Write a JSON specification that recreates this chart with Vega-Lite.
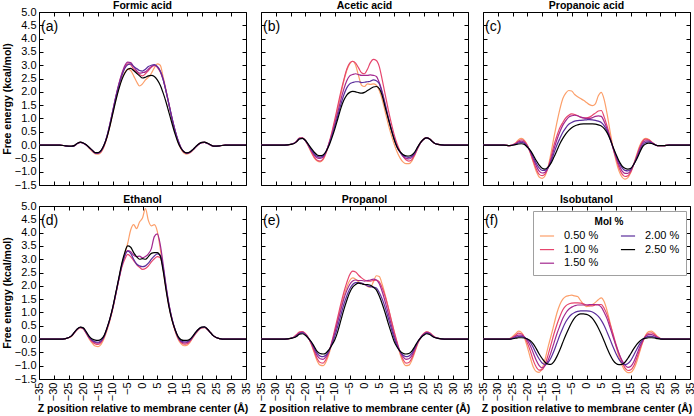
{
  "$schema": "https://vega.github.io/schema/vega-lite/v6.json",
  "background": "white",
  "autosize": {"type": "pad"},
  "padding": {"left": 2, "top": 0, "right": 2, "bottom": 3},
  "datasets": {
    "fe": [
      {"p":"a","x":-35,"A":0,"B":0,"C":0,"D":0,"E":0},
      {"p":"a","x":-31,"A":0,"B":0,"C":0,"D":0,"E":0},
      {"p":"a","x":-28,"A":0,"B":0,"C":0,"D":0,"E":0},
      {"p":"a","x":-26,"A":-0.03,"B":-0.03,"C":-0.03,"D":-0.03,"E":-0.03},
      {"p":"a","x":-24,"A":-0.05,"B":-0.05,"C":-0.05,"D":-0.05,"E":-0.04},
      {"p":"a","x":-23,"A":-0.02,"B":-0.02,"C":-0.02,"D":-0.02,"E":-0.01},
      {"p":"a","x":-22,"A":0.06,"B":0.06,"C":0.06,"D":0.06,"E":0.07},
      {"p":"a","x":-21,"A":0.1,"B":0.1,"C":0.1,"D":0.1,"E":0.11},
      {"p":"a","x":-20,"A":0.07,"B":0.07,"C":0.07,"D":0.07,"E":0.08},
      {"p":"a","x":-19,"A":0,"B":0,"C":0,"D":0,"E":0.01},
      {"p":"a","x":-18,"A":-0.12,"B":-0.1,"C":-0.1,"D":-0.1,"E":-0.09},
      {"p":"a","x":-17,"A":-0.24,"B":-0.21,"C":-0.2,"D":-0.2,"E":-0.19},
      {"p":"a","x":-16,"A":-0.33,"B":-0.3,"C":-0.29,"D":-0.29,"E":-0.28},
      {"p":"a","x":-15,"A":-0.34,"B":-0.31,"C":-0.3,"D":-0.3,"E":-0.28},
      {"p":"a","x":-14,"A":-0.27,"B":-0.24,"C":-0.22,"D":-0.22,"E":-0.2},
      {"p":"a","x":-13,"A":-0.06,"B":-0.03,"C":-0.01,"D":0,"E":0},
      {"p":"a","x":-12,"A":0.28,"B":0.32,"C":0.34,"D":0.34,"E":0.3},
      {"p":"a","x":-11,"A":0.72,"B":0.78,"C":0.8,"D":0.8,"E":0.72},
      {"p":"a","x":-10,"A":1.22,"B":1.3,"C":1.32,"D":1.3,"E":1.2},
      {"p":"a","x":-9,"A":1.72,"B":1.82,"C":1.84,"D":1.8,"E":1.68},
      {"p":"a","x":-8,"A":2.15,"B":2.28,"C":2.3,"D":2.24,"E":2.1},
      {"p":"a","x":-7,"A":2.5,"B":2.65,"C":2.68,"D":2.6,"E":2.45},
      {"p":"a","x":-6,"A":2.72,"B":2.92,"C":2.98,"D":2.88,"E":2.7},
      {"p":"a","x":-5,"A":2.85,"B":3.05,"C":3.12,"D":3.02,"E":2.85},
      {"p":"a","x":-4,"A":2.8,"B":3.02,"C":3.1,"D":3.05,"E":2.88},
      {"p":"a","x":-3,"A":2.6,"B":2.85,"C":2.95,"D":2.95,"E":2.8},
      {"p":"a","x":-2,"A":2.38,"B":2.75,"C":2.8,"D":2.88,"E":2.7},
      {"p":"a","x":-1,"A":2.22,"B":2.65,"C":2.7,"D":2.8,"E":2.6},
      {"p":"a","x":0,"A":2.3,"B":2.6,"C":2.72,"D":2.78,"E":2.52},
      {"p":"a","x":1,"A":2.45,"B":2.68,"C":2.75,"D":2.85,"E":2.55},
      {"p":"a","x":2,"A":2.55,"B":2.8,"C":2.85,"D":2.95,"E":2.6},
      {"p":"a","x":3,"A":2.7,"B":2.92,"C":2.95,"D":3.0,"E":2.62},
      {"p":"a","x":4,"A":2.9,"B":2.98,"C":3.0,"D":3.02,"E":2.58},
      {"p":"a","x":5,"A":3.05,"B":2.92,"C":2.95,"D":2.95,"E":2.45},
      {"p":"a","x":6,"A":3.0,"B":2.75,"C":2.78,"D":2.78,"E":2.25},
      {"p":"a","x":7,"A":2.55,"B":2.45,"C":2.48,"D":2.45,"E":1.95},
      {"p":"a","x":8,"A":2.05,"B":2.0,"C":2.02,"D":2.0,"E":1.6},
      {"p":"a","x":9,"A":1.5,"B":1.5,"C":1.5,"D":1.5,"E":1.2},
      {"p":"a","x":10,"A":0.95,"B":1.0,"C":1.0,"D":1.0,"E":0.8},
      {"p":"a","x":11,"A":0.5,"B":0.55,"C":0.55,"D":0.55,"E":0.42},
      {"p":"a","x":12,"A":0.12,"B":0.18,"C":0.18,"D":0.18,"E":0.1},
      {"p":"a","x":13,"A":-0.15,"B":-0.1,"C":-0.1,"D":-0.1,"E":-0.12},
      {"p":"a","x":14,"A":-0.3,"B":-0.26,"C":-0.25,"D":-0.25,"E":-0.25},
      {"p":"a","x":15,"A":-0.34,"B":-0.31,"C":-0.3,"D":-0.3,"E":-0.29},
      {"p":"a","x":16,"A":-0.3,"B":-0.28,"C":-0.27,"D":-0.27,"E":-0.26},
      {"p":"a","x":17,"A":-0.2,"B":-0.18,"C":-0.18,"D":-0.18,"E":-0.17},
      {"p":"a","x":18,"A":-0.08,"B":-0.07,"C":-0.07,"D":-0.07,"E":-0.06},
      {"p":"a","x":19,"A":0.03,"B":0.03,"C":0.03,"D":0.03,"E":0.04},
      {"p":"a","x":20,"A":0.09,"B":0.09,"C":0.09,"D":0.09,"E":0.1},
      {"p":"a","x":21,"A":0.1,"B":0.1,"C":0.1,"D":0.1,"E":0.11},
      {"p":"a","x":22,"A":0.06,"B":0.06,"C":0.06,"D":0.06,"E":0.07},
      {"p":"a","x":23,"A":0,"B":0,"C":0,"D":0,"E":0.01},
      {"p":"a","x":24,"A":-0.04,"B":-0.04,"C":-0.04,"D":-0.04,"E":-0.04},
      {"p":"a","x":26,"A":-0.03,"B":-0.03,"C":-0.03,"D":-0.03,"E":-0.03},
      {"p":"a","x":28,"A":0,"B":0,"C":0,"D":0,"E":0},
      {"p":"a","x":31,"A":0,"B":0,"C":0,"D":0,"E":0},
      {"p":"a","x":35,"A":0,"B":0,"C":0,"D":0,"E":0},

      {"p":"b","x":-35,"A":0,"B":0,"C":0,"D":0,"E":0},
      {"p":"b","x":-31,"A":0,"B":0,"C":0,"D":0,"E":0},
      {"p":"b","x":-28,"A":0,"B":0,"C":0,"D":0,"E":0},
      {"p":"b","x":-26,"A":0.01,"B":0.01,"C":0.01,"D":0.01,"E":0.01},
      {"p":"b","x":-24,"A":0.06,"B":0.06,"C":0.06,"D":0.06,"E":0.05},
      {"p":"b","x":-23,"A":0.14,"B":0.14,"C":0.13,"D":0.13,"E":0.12},
      {"p":"b","x":-22,"A":0.26,"B":0.26,"C":0.25,"D":0.24,"E":0.23},
      {"p":"b","x":-21,"A":0.27,"B":0.27,"C":0.26,"D":0.25,"E":0.25},
      {"p":"b","x":-20,"A":0.16,"B":0.17,"C":0.17,"D":0.17,"E":0.18},
      {"p":"b","x":-19,"A":-0.04,"B":-0.02,"C":0,"D":0.01,"E":0.03},
      {"p":"b","x":-18,"A":-0.28,"B":-0.25,"C":-0.2,"D":-0.17,"E":-0.12},
      {"p":"b","x":-17,"A":-0.48,"B":-0.45,"C":-0.38,"D":-0.33,"E":-0.27},
      {"p":"b","x":-16,"A":-0.6,"B":-0.57,"C":-0.48,"D":-0.43,"E":-0.37},
      {"p":"b","x":-15,"A":-0.63,"B":-0.6,"C":-0.5,"D":-0.45,"E":-0.4},
      {"p":"b","x":-14,"A":-0.55,"B":-0.52,"C":-0.45,"D":-0.41,"E":-0.37},
      {"p":"b","x":-13,"A":-0.3,"B":-0.28,"C":-0.25,"D":-0.24,"E":-0.24},
      {"p":"b","x":-12,"A":0.05,"B":0.08,"C":0.05,"D":0.02,"E":-0.02},
      {"p":"b","x":-11,"A":0.45,"B":0.5,"C":0.4,"D":0.35,"E":0.28},
      {"p":"b","x":-10,"A":0.9,"B":0.98,"C":0.8,"D":0.72,"E":0.62},
      {"p":"b","x":-9,"A":1.4,"B":1.5,"C":1.25,"D":1.12,"E":1.0},
      {"p":"b","x":-8,"A":1.9,"B":2.0,"C":1.7,"D":1.52,"E":1.38},
      {"p":"b","x":-7,"A":2.4,"B":2.45,"C":2.1,"D":1.88,"E":1.68},
      {"p":"b","x":-6,"A":2.8,"B":2.85,"C":2.42,"D":2.15,"E":1.88},
      {"p":"b","x":-5,"A":3.05,"B":3.08,"C":2.6,"D":2.3,"E":1.98},
      {"p":"b","x":-4,"A":3.15,"B":3.15,"C":2.65,"D":2.35,"E":2.02},
      {"p":"b","x":-3,"A":3.0,"B":3.08,"C":2.68,"D":2.38,"E":2.0},
      {"p":"b","x":-2,"A":2.6,"B":2.9,"C":2.65,"D":2.38,"E":1.97},
      {"p":"b","x":-1,"A":2.25,"B":2.72,"C":2.62,"D":2.35,"E":1.95},
      {"p":"b","x":0,"A":2.2,"B":2.68,"C":2.62,"D":2.36,"E":1.98},
      {"p":"b","x":1,"A":2.3,"B":2.85,"C":2.62,"D":2.38,"E":2.05},
      {"p":"b","x":2,"A":2.28,"B":3.1,"C":2.64,"D":2.4,"E":2.12},
      {"p":"b","x":3,"A":2.3,"B":3.22,"C":2.62,"D":2.45,"E":2.18},
      {"p":"b","x":4,"A":2.25,"B":3.18,"C":2.58,"D":2.42,"E":2.2},
      {"p":"b","x":5,"A":2.05,"B":2.95,"C":2.35,"D":2.3,"E":2.12},
      {"p":"b","x":6,"A":1.7,"B":2.45,"C":2.0,"D":1.95,"E":1.85},
      {"p":"b","x":7,"A":1.25,"B":1.9,"C":1.55,"D":1.5,"E":1.42},
      {"p":"b","x":8,"A":0.8,"B":1.35,"C":1.05,"D":1.05,"E":1.0},
      {"p":"b","x":9,"A":0.4,"B":0.85,"C":0.62,"D":0.62,"E":0.6},
      {"p":"b","x":10,"A":0.05,"B":0.4,"C":0.25,"D":0.25,"E":0.22},
      {"p":"b","x":11,"A":-0.25,"B":0.05,"C":-0.05,"D":-0.07,"E":-0.07},
      {"p":"b","x":12,"A":-0.48,"B":-0.22,"C":-0.27,"D":-0.26,"E":-0.25},
      {"p":"b","x":13,"A":-0.63,"B":-0.42,"C":-0.42,"D":-0.38,"E":-0.35},
      {"p":"b","x":14,"A":-0.7,"B":-0.55,"C":-0.5,"D":-0.44,"E":-0.4},
      {"p":"b","x":15,"A":-0.7,"B":-0.6,"C":-0.52,"D":-0.46,"E":-0.41},
      {"p":"b","x":16,"A":-0.6,"B":-0.55,"C":-0.47,"D":-0.42,"E":-0.37},
      {"p":"b","x":17,"A":-0.38,"B":-0.36,"C":-0.32,"D":-0.29,"E":-0.26},
      {"p":"b","x":18,"A":-0.12,"B":-0.12,"C":-0.1,"D":-0.09,"E":-0.07},
      {"p":"b","x":19,"A":0.1,"B":0.09,"C":0.09,"D":0.1,"E":0.1},
      {"p":"b","x":20,"A":0.23,"B":0.22,"C":0.22,"D":0.22,"E":0.22},
      {"p":"b","x":21,"A":0.28,"B":0.27,"C":0.27,"D":0.27,"E":0.27},
      {"p":"b","x":22,"A":0.24,"B":0.23,"C":0.23,"D":0.23,"E":0.23},
      {"p":"b","x":23,"A":0.13,"B":0.13,"C":0.13,"D":0.13,"E":0.13},
      {"p":"b","x":24,"A":0.05,"B":0.05,"C":0.05,"D":0.05,"E":0.05},
      {"p":"b","x":26,"A":0.01,"B":0.01,"C":0.01,"D":0.01,"E":0.01},
      {"p":"b","x":28,"A":0,"B":0,"C":0,"D":0,"E":0},
      {"p":"b","x":31,"A":0,"B":0,"C":0,"D":0,"E":0},
      {"p":"b","x":35,"A":0,"B":0,"C":0,"D":0,"E":0},

      {"p":"c","x":-35,"A":0,"B":0,"C":0,"D":0,"E":0},
      {"p":"c","x":-31,"A":0,"B":0,"C":0,"D":0,"E":0},
      {"p":"c","x":-28,"A":0,"B":0,"C":0,"D":0,"E":0},
      {"p":"c","x":-26,"A":-0.02,"B":-0.02,"C":-0.02,"D":-0.02,"E":-0.02},
      {"p":"c","x":-24,"A":0.08,"B":0.06,"C":0.05,"D":0.03,"E":0.02},
      {"p":"c","x":-23,"A":0.2,"B":0.15,"C":0.12,"D":0.08,"E":0.04},
      {"p":"c","x":-22,"A":0.25,"B":0.2,"C":0.15,"D":0.1,"E":0.05},
      {"p":"c","x":-21,"A":0.18,"B":0.15,"C":0.1,"D":0.06,"E":0.02},
      {"p":"c","x":-20,"A":0,"B":-0.02,"C":-0.04,"D":-0.06,"E":-0.08},
      {"p":"c","x":-19,"A":-0.3,"B":-0.28,"C":-0.25,"D":-0.22,"E":-0.2},
      {"p":"c","x":-18,"A":-0.65,"B":-0.6,"C":-0.52,"D":-0.45,"E":-0.38},
      {"p":"c","x":-17,"A":-0.98,"B":-0.9,"C":-0.78,"D":-0.68,"E":-0.58},
      {"p":"c","x":-16,"A":-1.2,"B":-1.1,"C":-0.98,"D":-0.86,"E":-0.75},
      {"p":"c","x":-15,"A":-1.25,"B":-1.15,"C":-1.05,"D":-0.95,"E":-0.87},
      {"p":"c","x":-14,"A":-1.15,"B":-1.08,"C":-1.02,"D":-0.95,"E":-0.9},
      {"p":"c","x":-13,"A":-0.82,"B":-0.85,"C":-0.85,"D":-0.85,"E":-0.83},
      {"p":"c","x":-12,"A":-0.3,"B":-0.45,"C":-0.55,"D":-0.62,"E":-0.68},
      {"p":"c","x":-11,"A":0.3,"B":0,"C":-0.15,"D":-0.3,"E":-0.45},
      {"p":"c","x":-10,"A":0.85,"B":0.35,"C":0.2,"D":0,"E":-0.2},
      {"p":"c","x":-9,"A":1.35,"B":0.65,"C":0.5,"D":0.25,"E":0.05},
      {"p":"c","x":-8,"A":1.75,"B":0.85,"C":0.75,"D":0.48,"E":0.25},
      {"p":"c","x":-7,"A":1.95,"B":1.02,"C":0.92,"D":0.65,"E":0.42},
      {"p":"c","x":-6,"A":2.05,"B":1.12,"C":1.05,"D":0.78,"E":0.55},
      {"p":"c","x":-5,"A":2.03,"B":1.17,"C":1.1,"D":0.85,"E":0.65},
      {"p":"c","x":-4,"A":1.9,"B":1.15,"C":1.12,"D":0.9,"E":0.72},
      {"p":"c","x":-3,"A":1.82,"B":1.1,"C":1.1,"D":0.92,"E":0.76},
      {"p":"c","x":-2,"A":1.75,"B":1.05,"C":1.05,"D":0.93,"E":0.79},
      {"p":"c","x":-1,"A":1.68,"B":1.02,"C":1.02,"D":0.94,"E":0.8},
      {"p":"c","x":0,"A":1.6,"B":1.02,"C":1.0,"D":0.95,"E":0.8},
      {"p":"c","x":1,"A":1.52,"B":1.05,"C":1.0,"D":0.96,"E":0.8},
      {"p":"c","x":2,"A":1.48,"B":1.12,"C":1.03,"D":0.95,"E":0.8},
      {"p":"c","x":3,"A":1.55,"B":1.2,"C":1.08,"D":0.93,"E":0.79},
      {"p":"c","x":4,"A":1.85,"B":1.28,"C":1.1,"D":0.9,"E":0.76},
      {"p":"c","x":5,"A":1.98,"B":1.3,"C":1.08,"D":0.85,"E":0.72},
      {"p":"c","x":6,"A":1.7,"B":1.05,"C":0.88,"D":0.72,"E":0.62},
      {"p":"c","x":7,"A":1.15,"B":0.7,"C":0.6,"D":0.52,"E":0.46},
      {"p":"c","x":8,"A":0.5,"B":0.3,"C":0.25,"D":0.22,"E":0.22},
      {"p":"c","x":9,"A":-0.1,"B":-0.12,"C":-0.12,"D":-0.1,"E":-0.08},
      {"p":"c","x":10,"A":-0.6,"B":-0.5,"C":-0.45,"D":-0.4,"E":-0.35},
      {"p":"c","x":11,"A":-0.98,"B":-0.85,"C":-0.75,"D":-0.65,"E":-0.6},
      {"p":"c","x":12,"A":-1.2,"B":-1.08,"C":-0.97,"D":-0.85,"E":-0.78},
      {"p":"c","x":13,"A":-1.28,"B":-1.18,"C":-1.06,"D":-0.95,"E":-0.87},
      {"p":"c","x":14,"A":-1.22,"B":-1.15,"C":-1.06,"D":-0.97,"E":-0.9},
      {"p":"c","x":15,"A":-1.02,"B":-1.0,"C":-0.95,"D":-0.9,"E":-0.87},
      {"p":"c","x":16,"A":-0.7,"B":-0.72,"C":-0.72,"D":-0.72,"E":-0.72},
      {"p":"c","x":17,"A":-0.35,"B":-0.4,"C":-0.45,"D":-0.48,"E":-0.52},
      {"p":"c","x":18,"A":-0.02,"B":-0.08,"C":-0.15,"D":-0.22,"E":-0.28},
      {"p":"c","x":19,"A":0.18,"B":0.14,"C":0.08,"D":0,"E":-0.06},
      {"p":"c","x":20,"A":0.25,"B":0.22,"C":0.16,"D":0.1,"E":0.04},
      {"p":"c","x":21,"A":0.22,"B":0.2,"C":0.16,"D":0.12,"E":0.07},
      {"p":"c","x":22,"A":0.12,"B":0.12,"C":0.1,"D":0.08,"E":0.06},
      {"p":"c","x":23,"A":0.03,"B":0.03,"C":0.03,"D":0.02,"E":0.02},
      {"p":"c","x":24,"A":-0.02,"B":-0.02,"C":-0.02,"D":-0.02,"E":-0.02},
      {"p":"c","x":26,"A":-0.02,"B":-0.02,"C":-0.02,"D":-0.02,"E":-0.02},
      {"p":"c","x":28,"A":0,"B":0,"C":0,"D":0,"E":0},
      {"p":"c","x":31,"A":0,"B":0,"C":0,"D":0,"E":0},
      {"p":"c","x":35,"A":0,"B":0,"C":0,"D":0,"E":0},

      {"p":"d","x":-35,"A":0,"B":0,"C":0,"D":0,"E":0},
      {"p":"d","x":-31,"A":0,"B":0,"C":0,"D":0,"E":0},
      {"p":"d","x":-28,"A":0,"B":0,"C":0,"D":0,"E":0},
      {"p":"d","x":-26,"A":0.02,"B":0.02,"C":0.02,"D":0.02,"E":0.02},
      {"p":"d","x":-24,"A":0.1,"B":0.11,"C":0.12,"D":0.12,"E":0.12},
      {"p":"d","x":-23,"A":0.23,"B":0.24,"C":0.25,"D":0.25,"E":0.26},
      {"p":"d","x":-22,"A":0.36,"B":0.37,"C":0.38,"D":0.38,"E":0.39},
      {"p":"d","x":-21,"A":0.42,"B":0.43,"C":0.44,"D":0.44,"E":0.45},
      {"p":"d","x":-20,"A":0.38,"B":0.39,"C":0.4,"D":0.41,"E":0.42},
      {"p":"d","x":-19,"A":0.2,"B":0.22,"C":0.23,"D":0.24,"E":0.27},
      {"p":"d","x":-18,"A":0,"B":0.03,"C":0.05,"D":0.06,"E":0.1},
      {"p":"d","x":-17,"A":-0.15,"B":-0.1,"C":-0.06,"D":-0.04,"E":0},
      {"p":"d","x":-16,"A":-0.26,"B":-0.18,"C":-0.13,"D":-0.1,"E":-0.04},
      {"p":"d","x":-15,"A":-0.28,"B":-0.2,"C":-0.15,"D":-0.12,"E":-0.05},
      {"p":"d","x":-14,"A":-0.2,"B":-0.12,"C":-0.09,"D":-0.06,"E":-0.01},
      {"p":"d","x":-13,"A":0.02,"B":0.08,"C":0.1,"D":0.1,"E":0.13},
      {"p":"d","x":-12,"A":0.33,"B":0.38,"C":0.4,"D":0.4,"E":0.42},
      {"p":"d","x":-11,"A":0.7,"B":0.74,"C":0.76,"D":0.76,"E":0.78},
      {"p":"d","x":-10,"A":1.15,"B":1.18,"C":1.2,"D":1.2,"E":1.22},
      {"p":"d","x":-9,"A":1.7,"B":1.7,"C":1.72,"D":1.72,"E":1.76},
      {"p":"d","x":-8,"A":2.25,"B":2.22,"C":2.26,"D":2.26,"E":2.3},
      {"p":"d","x":-7,"A":2.75,"B":2.7,"C":2.78,"D":2.76,"E":2.84},
      {"p":"d","x":-6,"A":3.2,"B":3.0,"C":3.15,"D":3.12,"E":3.25},
      {"p":"d","x":-5,"A":3.6,"B":3.18,"C":3.32,"D":3.3,"E":3.5},
      {"p":"d","x":-4,"A":4.1,"B":3.1,"C":3.28,"D":3.22,"E":3.45},
      {"p":"d","x":-3,"A":4.3,"B":2.95,"C":3.15,"D":3.0,"E":3.25},
      {"p":"d","x":-2,"A":4.15,"B":2.8,"C":3.1,"D":2.82,"E":3.1},
      {"p":"d","x":-1,"A":4.4,"B":2.7,"C":3.12,"D":2.75,"E":3.0},
      {"p":"d","x":0,"A":4.55,"B":2.62,"C":3.05,"D":2.72,"E":3.02},
      {"p":"d","x":1,"A":4.9,"B":2.65,"C":3.1,"D":2.75,"E":3.0},
      {"p":"d","x":2,"A":4.45,"B":2.75,"C":3.2,"D":2.85,"E":3.1},
      {"p":"d","x":3,"A":4.25,"B":2.9,"C":3.4,"D":3.0,"E":3.22},
      {"p":"d","x":4,"A":4.3,"B":3.02,"C":3.85,"D":3.12,"E":3.25},
      {"p":"d","x":5,"A":4.05,"B":3.1,"C":3.95,"D":3.2,"E":3.25},
      {"p":"d","x":6,"A":3.4,"B":3.05,"C":3.55,"D":3.15,"E":3.12},
      {"p":"d","x":7,"A":2.6,"B":2.65,"C":2.8,"D":2.68,"E":2.55},
      {"p":"d","x":8,"A":1.85,"B":1.9,"C":1.98,"D":1.92,"E":1.82},
      {"p":"d","x":9,"A":1.2,"B":1.25,"C":1.28,"D":1.26,"E":1.18},
      {"p":"d","x":10,"A":0.7,"B":0.74,"C":0.75,"D":0.75,"E":0.7},
      {"p":"d","x":11,"A":0.3,"B":0.34,"C":0.36,"D":0.36,"E":0.36},
      {"p":"d","x":12,"A":0,"B":0.05,"C":0.07,"D":0.08,"E":0.1},
      {"p":"d","x":13,"A":-0.17,"B":-0.12,"C":-0.09,"D":-0.06,"E":-0.02},
      {"p":"d","x":14,"A":-0.25,"B":-0.19,"C":-0.14,"D":-0.1,"E":-0.05},
      {"p":"d","x":15,"A":-0.24,"B":-0.18,"C":-0.13,"D":-0.1,"E":-0.05},
      {"p":"d","x":16,"A":-0.13,"B":-0.09,"C":-0.06,"D":-0.04,"E":-0.01},
      {"p":"d","x":17,"A":0.04,"B":0.06,"C":0.08,"D":0.09,"E":0.11},
      {"p":"d","x":18,"A":0.2,"B":0.22,"C":0.23,"D":0.24,"E":0.26},
      {"p":"d","x":19,"A":0.34,"B":0.35,"C":0.36,"D":0.37,"E":0.38},
      {"p":"d","x":20,"A":0.42,"B":0.43,"C":0.43,"D":0.44,"E":0.45},
      {"p":"d","x":21,"A":0.43,"B":0.44,"C":0.44,"D":0.45,"E":0.46},
      {"p":"d","x":22,"A":0.36,"B":0.36,"C":0.36,"D":0.37,"E":0.37},
      {"p":"d","x":23,"A":0.24,"B":0.24,"C":0.24,"D":0.24,"E":0.24},
      {"p":"d","x":24,"A":0.12,"B":0.12,"C":0.12,"D":0.12,"E":0.12},
      {"p":"d","x":26,"A":0.02,"B":0.02,"C":0.02,"D":0.02,"E":0.02},
      {"p":"d","x":28,"A":0,"B":0,"C":0,"D":0,"E":0},
      {"p":"d","x":31,"A":0,"B":0,"C":0,"D":0,"E":0},
      {"p":"d","x":35,"A":0,"B":0,"C":0,"D":0,"E":0},

      {"p":"e","x":-35,"A":0,"B":0,"C":0,"D":0,"E":0},
      {"p":"e","x":-31,"A":0,"B":0,"C":0,"D":0,"E":0},
      {"p":"e","x":-28,"A":0,"B":0,"C":0,"D":0,"E":0},
      {"p":"e","x":-26,"A":0.01,"B":0.01,"C":0.01,"D":0.01,"E":0.01},
      {"p":"e","x":-24,"A":0.07,"B":0.07,"C":0.06,"D":0.06,"E":0.05},
      {"p":"e","x":-23,"A":0.16,"B":0.16,"C":0.14,"D":0.12,"E":0.1},
      {"p":"e","x":-22,"A":0.26,"B":0.26,"C":0.23,"D":0.2,"E":0.18},
      {"p":"e","x":-21,"A":0.28,"B":0.28,"C":0.26,"D":0.23,"E":0.2},
      {"p":"e","x":-20,"A":0.2,"B":0.2,"C":0.18,"D":0.16,"E":0.14},
      {"p":"e","x":-19,"A":0.05,"B":0.05,"C":0.05,"D":0.04,"E":0.03},
      {"p":"e","x":-18,"A":-0.2,"B":-0.18,"C":-0.15,"D":-0.12,"E":-0.1},
      {"p":"e","x":-17,"A":-0.52,"B":-0.46,"C":-0.39,"D":-0.33,"E":-0.28},
      {"p":"e","x":-16,"A":-0.82,"B":-0.74,"C":-0.62,"D":-0.54,"E":-0.46},
      {"p":"e","x":-15,"A":-0.98,"B":-0.88,"C":-0.74,"D":-0.64,"E":-0.54},
      {"p":"e","x":-14,"A":-1.0,"B":-0.9,"C":-0.76,"D":-0.66,"E":-0.56},
      {"p":"e","x":-13,"A":-0.85,"B":-0.76,"C":-0.66,"D":-0.6,"E":-0.52},
      {"p":"e","x":-12,"A":-0.55,"B":-0.48,"C":-0.45,"D":-0.44,"E":-0.4},
      {"p":"e","x":-11,"A":-0.15,"B":-0.08,"C":-0.12,"D":-0.18,"E":-0.22},
      {"p":"e","x":-10,"A":0.3,"B":0.38,"C":0.25,"D":0.12,"E":-0.02},
      {"p":"e","x":-9,"A":0.75,"B":0.85,"C":0.68,"D":0.5,"E":0.3},
      {"p":"e","x":-8,"A":1.2,"B":1.32,"C":1.1,"D":0.9,"E":0.7},
      {"p":"e","x":-7,"A":1.6,"B":1.75,"C":1.5,"D":1.3,"E":1.1},
      {"p":"e","x":-6,"A":1.95,"B":2.12,"C":1.82,"D":1.62,"E":1.45},
      {"p":"e","x":-5,"A":2.2,"B":2.42,"C":2.05,"D":1.88,"E":1.75},
      {"p":"e","x":-4,"A":2.3,"B":2.55,"C":2.18,"D":2.05,"E":1.95},
      {"p":"e","x":-3,"A":2.25,"B":2.52,"C":2.22,"D":2.12,"E":2.05},
      {"p":"e","x":-2,"A":2.15,"B":2.4,"C":2.2,"D":2.12,"E":2.1},
      {"p":"e","x":-1,"A":2.1,"B":2.3,"C":2.2,"D":2.1,"E":2.08},
      {"p":"e","x":0,"A":2.05,"B":2.22,"C":2.18,"D":2.05,"E":2.05},
      {"p":"e","x":1,"A":1.98,"B":2.18,"C":2.2,"D":2.0,"E":2.05},
      {"p":"e","x":2,"A":1.95,"B":2.18,"C":2.22,"D":1.97,"E":2.02},
      {"p":"e","x":3,"A":2.15,"B":2.2,"C":2.25,"D":1.95,"E":1.95},
      {"p":"e","x":4,"A":2.38,"B":2.22,"C":2.22,"D":1.92,"E":1.85},
      {"p":"e","x":5,"A":2.35,"B":2.15,"C":2.08,"D":1.75,"E":1.62},
      {"p":"e","x":6,"A":2.05,"B":1.92,"C":1.78,"D":1.5,"E":1.32},
      {"p":"e","x":7,"A":1.65,"B":1.6,"C":1.4,"D":1.18,"E":0.98},
      {"p":"e","x":8,"A":1.2,"B":1.2,"C":0.98,"D":0.8,"E":0.6},
      {"p":"e","x":9,"A":0.72,"B":0.75,"C":0.56,"D":0.42,"E":0.25},
      {"p":"e","x":10,"A":0.28,"B":0.3,"C":0.15,"D":0.05,"E":-0.08},
      {"p":"e","x":11,"A":-0.15,"B":-0.1,"C":-0.18,"D":-0.25,"E":-0.3},
      {"p":"e","x":12,"A":-0.55,"B":-0.48,"C":-0.45,"D":-0.46,"E":-0.45},
      {"p":"e","x":13,"A":-0.85,"B":-0.76,"C":-0.66,"D":-0.6,"E":-0.53},
      {"p":"e","x":14,"A":-1.0,"B":-0.9,"C":-0.76,"D":-0.66,"E":-0.56},
      {"p":"e","x":15,"A":-0.98,"B":-0.88,"C":-0.74,"D":-0.64,"E":-0.54},
      {"p":"e","x":16,"A":-0.8,"B":-0.72,"C":-0.62,"D":-0.54,"E":-0.45},
      {"p":"e","x":17,"A":-0.5,"B":-0.45,"C":-0.38,"D":-0.32,"E":-0.28},
      {"p":"e","x":18,"A":-0.18,"B":-0.16,"C":-0.13,"D":-0.11,"E":-0.09},
      {"p":"e","x":19,"A":0.06,"B":0.06,"C":0.06,"D":0.05,"E":0.04},
      {"p":"e","x":20,"A":0.2,"B":0.2,"C":0.18,"D":0.16,"E":0.14},
      {"p":"e","x":21,"A":0.27,"B":0.27,"C":0.25,"D":0.22,"E":0.2},
      {"p":"e","x":22,"A":0.24,"B":0.24,"C":0.22,"D":0.2,"E":0.17},
      {"p":"e","x":23,"A":0.14,"B":0.14,"C":0.13,"D":0.11,"E":0.1},
      {"p":"e","x":24,"A":0.06,"B":0.06,"C":0.06,"D":0.05,"E":0.05},
      {"p":"e","x":26,"A":0.01,"B":0.01,"C":0.01,"D":0.01,"E":0.01},
      {"p":"e","x":28,"A":0,"B":0,"C":0,"D":0,"E":0},
      {"p":"e","x":31,"A":0,"B":0,"C":0,"D":0,"E":0},
      {"p":"e","x":35,"A":0,"B":0,"C":0,"D":0,"E":0},

      {"p":"f","x":-35,"A":0,"B":0,"C":0,"D":0,"E":0},
      {"p":"f","x":-31,"A":0,"B":0,"C":0,"D":0,"E":0},
      {"p":"f","x":-28,"A":0,"B":0,"C":0,"D":0,"E":0},
      {"p":"f","x":-26,"A":0.02,"B":0.01,"C":0,"D":0,"E":0},
      {"p":"f","x":-24,"A":0.2,"B":0.14,"C":0.1,"D":0.06,"E":0.03},
      {"p":"f","x":-23,"A":0.3,"B":0.22,"C":0.15,"D":0.09,"E":0.05},
      {"p":"f","x":-22,"A":0.25,"B":0.2,"C":0.15,"D":0.1,"E":0.05},
      {"p":"f","x":-21,"A":0.05,"B":0.08,"C":0.08,"D":0.06,"E":0.04},
      {"p":"f","x":-20,"A":-0.3,"B":-0.15,"C":-0.05,"D":0,"E":0},
      {"p":"f","x":-19,"A":-0.7,"B":-0.45,"C":-0.25,"D":-0.12,"E":-0.06},
      {"p":"f","x":-18,"A":-1.05,"B":-0.8,"C":-0.52,"D":-0.32,"E":-0.18},
      {"p":"f","x":-17,"A":-1.22,"B":-1.05,"C":-0.8,"D":-0.55,"E":-0.36},
      {"p":"f","x":-16,"A":-1.25,"B":-1.17,"C":-1.0,"D":-0.75,"E":-0.56},
      {"p":"f","x":-15,"A":-1.1,"B":-1.15,"C":-1.08,"D":-0.9,"E":-0.73},
      {"p":"f","x":-14,"A":-0.75,"B":-0.95,"C":-1.0,"D":-0.95,"E":-0.87},
      {"p":"f","x":-13,"A":-0.3,"B":-0.6,"C":-0.8,"D":-0.88,"E":-0.94},
      {"p":"f","x":-12,"A":0.12,"B":-0.2,"C":-0.5,"D":-0.7,"E":-0.95},
      {"p":"f","x":-11,"A":0.55,"B":0.2,"C":-0.15,"D":-0.45,"E":-0.85},
      {"p":"f","x":-10,"A":0.98,"B":0.55,"C":0.2,"D":-0.15,"E":-0.65},
      {"p":"f","x":-9,"A":1.3,"B":0.85,"C":0.5,"D":0.15,"E":-0.4},
      {"p":"f","x":-8,"A":1.5,"B":1.1,"C":0.78,"D":0.42,"E":-0.12},
      {"p":"f","x":-7,"A":1.6,"B":1.25,"C":0.98,"D":0.65,"E":0.15},
      {"p":"f","x":-6,"A":1.63,"B":1.32,"C":1.12,"D":0.82,"E":0.4},
      {"p":"f","x":-5,"A":1.65,"B":1.35,"C":1.2,"D":0.93,"E":0.62},
      {"p":"f","x":-4,"A":1.62,"B":1.36,"C":1.25,"D":1.0,"E":0.8},
      {"p":"f","x":-3,"A":1.6,"B":1.36,"C":1.28,"D":1.04,"E":0.9},
      {"p":"f","x":-2,"A":1.45,"B":1.35,"C":1.28,"D":1.06,"E":0.95},
      {"p":"f","x":-1,"A":1.3,"B":1.32,"C":1.28,"D":1.06,"E":0.95},
      {"p":"f","x":0,"A":1.22,"B":1.28,"C":1.28,"D":1.06,"E":0.93},
      {"p":"f","x":1,"A":1.25,"B":1.25,"C":1.3,"D":1.05,"E":0.88},
      {"p":"f","x":2,"A":1.3,"B":1.25,"C":1.3,"D":1.02,"E":0.78},
      {"p":"f","x":3,"A":1.38,"B":1.28,"C":1.3,"D":0.95,"E":0.62},
      {"p":"f","x":4,"A":1.48,"B":1.3,"C":1.28,"D":0.85,"E":0.42},
      {"p":"f","x":5,"A":1.55,"B":1.3,"C":1.2,"D":0.7,"E":0.18},
      {"p":"f","x":6,"A":1.4,"B":1.15,"C":1.0,"D":0.5,"E":-0.08},
      {"p":"f","x":7,"A":1.05,"B":0.9,"C":0.75,"D":0.25,"E":-0.35},
      {"p":"f","x":8,"A":0.6,"B":0.55,"C":0.42,"D":-0.02,"E":-0.6},
      {"p":"f","x":9,"A":0.15,"B":0.18,"C":0.08,"D":-0.3,"E":-0.8},
      {"p":"f","x":10,"A":-0.28,"B":-0.2,"C":-0.25,"D":-0.55,"E":-0.92},
      {"p":"f","x":11,"A":-0.68,"B":-0.55,"C":-0.55,"D":-0.76,"E":-0.96},
      {"p":"f","x":12,"A":-0.98,"B":-0.85,"C":-0.8,"D":-0.9,"E":-0.95},
      {"p":"f","x":13,"A":-1.18,"B":-1.08,"C":-0.98,"D":-0.96,"E":-0.87},
      {"p":"f","x":14,"A":-1.26,"B":-1.18,"C":-1.06,"D":-0.92,"E":-0.72},
      {"p":"f","x":15,"A":-1.25,"B":-1.15,"C":-1.02,"D":-0.8,"E":-0.54},
      {"p":"f","x":16,"A":-1.12,"B":-1.0,"C":-0.85,"D":-0.6,"E":-0.36},
      {"p":"f","x":17,"A":-0.85,"B":-0.72,"C":-0.58,"D":-0.38,"E":-0.2},
      {"p":"f","x":18,"A":-0.48,"B":-0.4,"C":-0.3,"D":-0.18,"E":-0.08},
      {"p":"f","x":19,"A":-0.12,"B":-0.1,"C":-0.06,"D":-0.02,"E":0},
      {"p":"f","x":20,"A":0.15,"B":0.12,"C":0.1,"D":0.06,"E":0.03},
      {"p":"f","x":21,"A":0.28,"B":0.22,"C":0.17,"D":0.1,"E":0.05},
      {"p":"f","x":22,"A":0.3,"B":0.23,"C":0.17,"D":0.1,"E":0.05},
      {"p":"f","x":23,"A":0.22,"B":0.17,"C":0.12,"D":0.07,"E":0.04},
      {"p":"f","x":24,"A":0.1,"B":0.08,"C":0.06,"D":0.04,"E":0.02},
      {"p":"f","x":26,"A":0,"B":0,"C":0,"D":0,"E":0},
      {"p":"f","x":28,"A":0,"B":0,"C":0,"D":0,"E":0},
      {"p":"f","x":31,"A":0,"B":0,"C":0,"D":0,"E":0},
      {"p":"f","x":35,"A":0,"B":0,"C":0,"D":0,"E":0}
    ]
  },
  "data": {"name": "fe"},
  "config": {
    "font": "Liberation Sans",
    "view": {"stroke": null},
    "axis": {
      "grid": false,
      "domainColor": "black",
      "domainWidth": 1,
      "tickColor": "black",
      "tickWidth": 1,
      "tickSize": -4,
      "labelPadding": 7,
      "labelFontSize": 11,
      "labelColor": "black",
      "titleFontSize": 10.5,
      "titleFontWeight": "bold",
      "titleColor": "black"
    },
    "title": {"fontSize": 10.5, "fontWeight": "bold", "color": "black", "anchor": "middle", "offset": -5},
    "legend": {
      "orient": "none",
      "legendX": 494,
      "legendY": 199,
      "columns": 2,
      "columnPadding": 19,
      "rowPadding": 0.6,
      "symbolType": "stroke",
      "symbolSize": 200,
      "symbolStrokeWidth": 1.6,
      "labelFontSize": 11,
      "labelColor": "black",
      "labelOffset": 9,
      "titleFontSize": 10,
      "titleFontWeight": "bold",
      "titleColor": "black",
      "titleAnchor": "middle",
      "titlePadding": 1,
      "fillColor": "white",
      "strokeColor": "#a0a0a0",
      "padding": 6,
      "cornerRadius": 0
    },
    "line": {"strokeWidth": 1.2, "interpolate": "monotone"}
  },
  "columns": 3,
  "spacing": {"row": 21, "column": 15},
  "bounds": "flush",
  "concat": [
    {
      "width": 207, "height": 173,
      "title": "Formic acid",
      "transform": [{"filter": "datum.p == 'a'"}, {"fold": ["A","B","C","D","E"], "as": ["k","y"]}],
      "layer": [
        {"mark": "line",
         "encoding": {
           "x": {"field": "x", "type": "quantitative", "scale": {"domain": [-35,35], "nice": false, "zero": false}, "axis": {"orient": "bottom", "values": [-35,-30,-25,-20,-15,-10,-5,0,5,10,15,20,25,30,35], "labels": false, "title": null}},
           "y": {"field": "y", "type": "quantitative", "scale": {"domain": [-1.5,5], "nice": false, "zero": false}, "axis": {"orient": "left", "values": [-1.5,-1,-0.5,0,0.5,1,1.5,2,2.5,3,3.5,4,4.5,5], "format": ".1f", "title": "Free energy (kcal/mol)", "titlePadding": 2}},
           "color": {"field": "k", "type": "nominal", "scale": {"domain": ["A","B","C","D","E"], "range": ["#fc9f6a","#e6456d","#a3288f","#5b2d9c","#000000"]}, "legend": {"title": "Mol %", "labelExpr": "datum.label == 'A' ? '0.50 %' : datum.label == 'B' ? '1.00 %' : datum.label == 'C' ? '1.50 %' : datum.label == 'D' ? '2.00 %' : '2.50 %'"}}
         }},
        {"transform": [{"filter": "datum.x == -35 && datum.k == 'A'"}],
         "mark": {"type": "text", "align": "left", "baseline": "middle", "fontSize": 14},
         "encoding": {
           "x": {"datum": -34.3, "type": "quantitative", "scale": {"domain": [-35,35], "nice": false, "zero": false}, "axis": {"orient": "top", "values": [-35,-30,-25,-20,-15,-10,-5,0,5,10,15,20,25,30,35], "labels": false, "title": null}},
           "y": {"datum": 4.42, "type": "quantitative", "scale": {"domain": [-1.5,5], "nice": false, "zero": false}, "axis": {"orient": "right", "values": [-1.5,-1,-0.5,0,0.5,1,1.5,2,2.5,3,3.5,4,4.5,5], "labels": false, "title": null}},
           "text": {"value": "(a)"}
         }}
      ],
      "resolve": {"axis": {"x": "independent", "y": "independent"}}
    },
    {
      "width": 207, "height": 173,
      "title": {"text": "Acetic acid", "offset": 0},
      "transform": [{"filter": "datum.p == 'b'"}, {"fold": ["A","B","C","D","E"], "as": ["k","y"]}],
      "layer": [
        {"mark": "line",
         "encoding": {
           "x": {"field": "x", "type": "quantitative", "scale": {"domain": [-35,35], "nice": false, "zero": false}, "axis": {"orient": "bottom", "values": [-35,-30,-25,-20,-15,-10,-5,0,5,10,15,20,25,30,35], "labels": false, "title": null}},
           "y": {"field": "y", "type": "quantitative", "scale": {"domain": [-1.5,5], "nice": false, "zero": false}, "axis": {"orient": "left", "values": [-1.5,-1,-0.5,0,0.5,1,1.5,2,2.5,3,3.5,4,4.5,5], "labels": false, "title": null}},
           "color": {"field": "k", "type": "nominal", "scale": {"domain": ["A","B","C","D","E"], "range": ["#fc9f6a","#e6456d","#a3288f","#5b2d9c","#000000"]}, "legend": {"title": "Mol %", "labelExpr": "datum.label == 'A' ? '0.50 %' : datum.label == 'B' ? '1.00 %' : datum.label == 'C' ? '1.50 %' : datum.label == 'D' ? '2.00 %' : '2.50 %'"}}
         }},
        {"transform": [{"filter": "datum.x == -35 && datum.k == 'A'"}],
         "mark": {"type": "text", "align": "left", "baseline": "middle", "fontSize": 14},
         "encoding": {
           "x": {"datum": -34.3, "type": "quantitative", "scale": {"domain": [-35,35], "nice": false, "zero": false}, "axis": {"orient": "top", "values": [-35,-30,-25,-20,-15,-10,-5,0,5,10,15,20,25,30,35], "labels": false, "title": null}},
           "y": {"datum": 4.42, "type": "quantitative", "scale": {"domain": [-1.5,5], "nice": false, "zero": false}, "axis": {"orient": "right", "values": [-1.5,-1,-0.5,0,0.5,1,1.5,2,2.5,3,3.5,4,4.5,5], "labels": false, "title": null}},
           "text": {"value": "(b)"}
         }}
      ],
      "resolve": {"axis": {"x": "independent", "y": "independent"}}
    },
    {
      "width": 207, "height": 173,
      "title": {"text": "Propanoic acid", "offset": 0},
      "transform": [{"filter": "datum.p == 'c'"}, {"fold": ["A","B","C","D","E"], "as": ["k","y"]}],
      "layer": [
        {"mark": "line",
         "encoding": {
           "x": {"field": "x", "type": "quantitative", "scale": {"domain": [-35,35], "nice": false, "zero": false}, "axis": {"orient": "bottom", "values": [-35,-30,-25,-20,-15,-10,-5,0,5,10,15,20,25,30,35], "labels": false, "title": null}},
           "y": {"field": "y", "type": "quantitative", "scale": {"domain": [-1.5,5], "nice": false, "zero": false}, "axis": {"orient": "left", "values": [-1.5,-1,-0.5,0,0.5,1,1.5,2,2.5,3,3.5,4,4.5,5], "labels": false, "title": null}},
           "color": {"field": "k", "type": "nominal", "scale": {"domain": ["A","B","C","D","E"], "range": ["#fc9f6a","#e6456d","#a3288f","#5b2d9c","#000000"]}, "legend": {"title": "Mol %", "labelExpr": "datum.label == 'A' ? '0.50 %' : datum.label == 'B' ? '1.00 %' : datum.label == 'C' ? '1.50 %' : datum.label == 'D' ? '2.00 %' : '2.50 %'"}}
         }},
        {"transform": [{"filter": "datum.x == -35 && datum.k == 'A'"}],
         "mark": {"type": "text", "align": "left", "baseline": "middle", "fontSize": 14},
         "encoding": {
           "x": {"datum": -34.3, "type": "quantitative", "scale": {"domain": [-35,35], "nice": false, "zero": false}, "axis": {"orient": "top", "values": [-35,-30,-25,-20,-15,-10,-5,0,5,10,15,20,25,30,35], "labels": false, "title": null}},
           "y": {"datum": 4.42, "type": "quantitative", "scale": {"domain": [-1.5,5], "nice": false, "zero": false}, "axis": {"orient": "right", "values": [-1.5,-1,-0.5,0,0.5,1,1.5,2,2.5,3,3.5,4,4.5,5], "labels": false, "title": null}},
           "text": {"value": "(c)"}
         }}
      ],
      "resolve": {"axis": {"x": "independent", "y": "independent"}}
    },
    {
      "width": 207, "height": 173,
      "title": "Ethanol",
      "transform": [{"filter": "datum.p == 'd'"}, {"fold": ["A","B","C","D","E"], "as": ["k","y"]}],
      "layer": [
        {"mark": "line",
         "encoding": {
           "x": {"field": "x", "type": "quantitative", "scale": {"domain": [-35,35], "nice": false, "zero": false}, "axis": {"orient": "bottom", "values": [-35,-30,-25,-20,-15,-10,-5,0,5,10,15,20,25,30,35], "format": "d", "labelAngle": 270, "title": "Z position relative to membrane center (Å)", "titlePadding": 3}},
           "y": {"field": "y", "type": "quantitative", "scale": {"domain": [-1.5,5], "nice": false, "zero": false}, "axis": {"orient": "left", "values": [-1.5,-1,-0.5,0,0.5,1,1.5,2,2.5,3,3.5,4,4.5,5], "format": ".1f", "title": "Free energy (kcal/mol)", "titlePadding": 2}},
           "color": {"field": "k", "type": "nominal", "scale": {"domain": ["A","B","C","D","E"], "range": ["#fc9f6a","#e6456d","#a3288f","#5b2d9c","#000000"]}, "legend": {"title": "Mol %", "labelExpr": "datum.label == 'A' ? '0.50 %' : datum.label == 'B' ? '1.00 %' : datum.label == 'C' ? '1.50 %' : datum.label == 'D' ? '2.00 %' : '2.50 %'"}}
         }},
        {"transform": [{"filter": "datum.x == -35 && datum.k == 'A'"}],
         "mark": {"type": "text", "align": "left", "baseline": "middle", "fontSize": 14},
         "encoding": {
           "x": {"datum": -34.3, "type": "quantitative", "scale": {"domain": [-35,35], "nice": false, "zero": false}, "axis": {"orient": "top", "values": [-35,-30,-25,-20,-15,-10,-5,0,5,10,15,20,25,30,35], "labels": false, "title": null}},
           "y": {"datum": 4.42, "type": "quantitative", "scale": {"domain": [-1.5,5], "nice": false, "zero": false}, "axis": {"orient": "right", "values": [-1.5,-1,-0.5,0,0.5,1,1.5,2,2.5,3,3.5,4,4.5,5], "labels": false, "title": null}},
           "text": {"value": "(d)"}
         }}
      ],
      "resolve": {"axis": {"x": "independent", "y": "independent"}}
    },
    {
      "width": 207, "height": 173,
      "title": {"text": "Propanol", "offset": 0},
      "transform": [{"filter": "datum.p == 'e'"}, {"fold": ["A","B","C","D","E"], "as": ["k","y"]}],
      "layer": [
        {"mark": "line",
         "encoding": {
           "x": {"field": "x", "type": "quantitative", "scale": {"domain": [-35,35], "nice": false, "zero": false}, "axis": {"orient": "bottom", "values": [-35,-30,-25,-20,-15,-10,-5,0,5,10,15,20,25,30,35], "format": "d", "labelAngle": 270, "title": "Z position relative to membrane center (Å)", "titlePadding": 3}},
           "y": {"field": "y", "type": "quantitative", "scale": {"domain": [-1.5,5], "nice": false, "zero": false}, "axis": {"orient": "left", "values": [-1.5,-1,-0.5,0,0.5,1,1.5,2,2.5,3,3.5,4,4.5,5], "labels": false, "title": null}},
           "color": {"field": "k", "type": "nominal", "scale": {"domain": ["A","B","C","D","E"], "range": ["#fc9f6a","#e6456d","#a3288f","#5b2d9c","#000000"]}, "legend": {"title": "Mol %", "labelExpr": "datum.label == 'A' ? '0.50 %' : datum.label == 'B' ? '1.00 %' : datum.label == 'C' ? '1.50 %' : datum.label == 'D' ? '2.00 %' : '2.50 %'"}}
         }},
        {"transform": [{"filter": "datum.x == -35 && datum.k == 'A'"}],
         "mark": {"type": "text", "align": "left", "baseline": "middle", "fontSize": 14},
         "encoding": {
           "x": {"datum": -34.3, "type": "quantitative", "scale": {"domain": [-35,35], "nice": false, "zero": false}, "axis": {"orient": "top", "values": [-35,-30,-25,-20,-15,-10,-5,0,5,10,15,20,25,30,35], "labels": false, "title": null}},
           "y": {"datum": 4.42, "type": "quantitative", "scale": {"domain": [-1.5,5], "nice": false, "zero": false}, "axis": {"orient": "right", "values": [-1.5,-1,-0.5,0,0.5,1,1.5,2,2.5,3,3.5,4,4.5,5], "labels": false, "title": null}},
           "text": {"value": "(e)"}
         }}
      ],
      "resolve": {"axis": {"x": "independent", "y": "independent"}}
    },
    {
      "width": 207, "height": 173,
      "title": {"text": "Isobutanol", "offset": 0},
      "transform": [{"filter": "datum.p == 'f'"}, {"fold": ["A","B","C","D","E"], "as": ["k","y"]}],
      "layer": [
        {"mark": "line",
         "encoding": {
           "x": {"field": "x", "type": "quantitative", "scale": {"domain": [-35,35], "nice": false, "zero": false}, "axis": {"orient": "bottom", "values": [-35,-30,-25,-20,-15,-10,-5,0,5,10,15,20,25,30,35], "format": "d", "labelAngle": 270, "title": "Z position relative to membrane center (Å)", "titlePadding": 3}},
           "y": {"field": "y", "type": "quantitative", "scale": {"domain": [-1.5,5], "nice": false, "zero": false}, "axis": {"orient": "left", "values": [-1.5,-1,-0.5,0,0.5,1,1.5,2,2.5,3,3.5,4,4.5,5], "labels": false, "title": null}},
           "color": {"field": "k", "type": "nominal", "scale": {"domain": ["A","B","C","D","E"], "range": ["#fc9f6a","#e6456d","#a3288f","#5b2d9c","#000000"]}, "legend": {"title": "Mol %", "labelExpr": "datum.label == 'A' ? '0.50 %' : datum.label == 'B' ? '1.00 %' : datum.label == 'C' ? '1.50 %' : datum.label == 'D' ? '2.00 %' : '2.50 %'"}}
         }},
        {"transform": [{"filter": "datum.x == -35 && datum.k == 'A'"}],
         "mark": {"type": "text", "align": "left", "baseline": "middle", "fontSize": 14},
         "encoding": {
           "x": {"datum": -34.3, "type": "quantitative", "scale": {"domain": [-35,35], "nice": false, "zero": false}, "axis": {"orient": "top", "values": [-35,-30,-25,-20,-15,-10,-5,0,5,10,15,20,25,30,35], "labels": false, "title": null}},
           "y": {"datum": 4.42, "type": "quantitative", "scale": {"domain": [-1.5,5], "nice": false, "zero": false}, "axis": {"orient": "right", "values": [-1.5,-1,-0.5,0,0.5,1,1.5,2,2.5,3,3.5,4,4.5,5], "labels": false, "title": null}},
           "text": {"value": "(f)"}
         }}
      ],
      "resolve": {"axis": {"x": "independent", "y": "independent"}}
    }
  ]
}
